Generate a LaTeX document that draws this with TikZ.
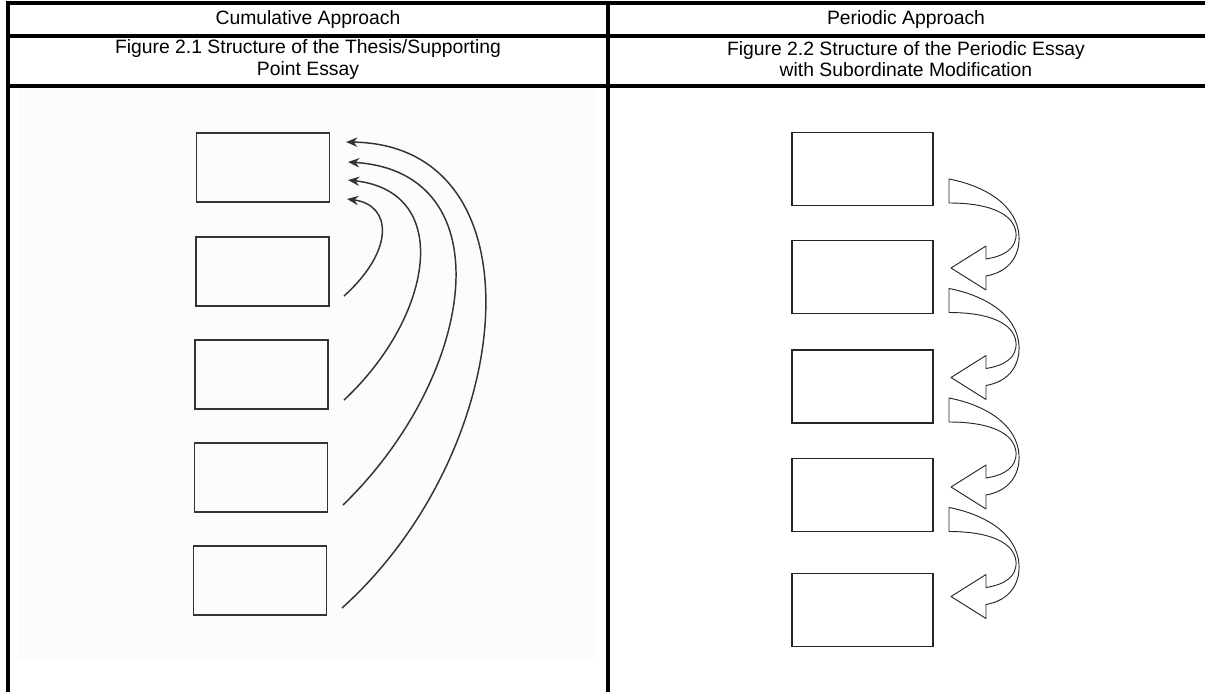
\documentclass[tikz,border=0pt]{standalone}
\usepackage{fontspec}
\setmainfont{Liberation Sans}
\usetikzlibrary{arrows.meta}
\begin{document}
\begin{tikzpicture}[x=0.75pt,y=-0.75pt,
  tbl/.style={line width=2.3pt, black},
  lbox/.style={draw=black!80, line width=0.9pt, minimum width=99.75pt, minimum height=51.75pt, inner sep=0pt},
  rbox/.style={draw=black!85, line width=0.9pt, minimum width=105.75pt, minimum height=54.75pt, inner sep=0pt},
  hdr/.style={font=\fontsize{14.5}{15.8}\selectfont, inner sep=0pt, align=center},
  arr/.style={draw=black!80, line width=1.1pt, -{Stealth[length=8.5pt,width=7pt]}},
  blk/.style={draw=black!85, line width=0.7pt, fill=white, line join=round}]
\useasboundingbox (0,0) rectangle (1205,692);
% faint scanned panel on the left
\fill[black!1] (18,88) rectangle (596,660);
% table lines
\draw[tbl] (8,3) -- (1205,3);
\draw[tbl] (8,36) -- (1205,36);
\draw[tbl] (8,86) -- (1205,86);
\draw[tbl] (8,1.5) -- (8,692);
\draw[tbl] (608,3) -- (608,692);
% header texts
\node[hdr] (h1) at (308,20) {Cumulative Approach};
\node[hdr] (h2) at (906,20) {Periodic Approach};
\node[hdr] (c1) at (308,59.5) {Figure 2.1 Structure of the Thesis/Supporting\\Point Essay};
\node[hdr] (c2) at (906,59.5) {Figure 2.2 Structure of the Periodic Essay\\with Subordinate Modification};
% left boxes
\node[lbox] (L1) at (263,167.5) {};
\node[lbox] (L2) at (262.5,271.5) {};
\node[lbox] (L3) at (261.5,374.5) {};
\node[lbox] (L4) at (261,477.5) {};
\node[lbox] (L5) at (260,580.5) {};
% left arrow ends
\coordinate (s2) at (344,296);
\coordinate (s3) at (344,400);
\coordinate (s4) at (343,505);
\coordinate (s5) at (342,608);
\coordinate (t2) at (347,199);
\coordinate (t3) at (348,180);
\coordinate (t4) at (348,162);
\coordinate (t5) at (346,142);
\draw[arr] (s2) .. controls (395,250) and (392,205) .. (t2);
\draw[arr] (s3) .. controls (432,318) and (455,192) .. (t3);
\draw[arr] (s4) .. controls (477,375) and (505,172) .. (t4);
\draw[arr] (s5) .. controls (518,450) and (545,145) .. (t5);
% right boxes
\node[rbox] (R1) at (862.5,169) {};
\node[rbox] (R2) at (862.5,277) {};
\node[rbox] (R3) at (862.5,386.5) {};
\node[rbox] (R4) at (862.5,495) {};
\node[rbox] (R5) at (862.5,610) {};
% curved block arrows
\foreach \d in {0,109.5,219,328.5}{
  \draw[blk, shift={(0,\d)}] (949,179) -- (949,203)
    .. controls (990,203) and (1014,214) .. (1016,233)
    .. controls (1017,248) and (1005,256) .. (986,259)
    -- (986,246) -- (951,268) -- (986,290) -- (986,276)
    .. controls (1009,272) and (1020,256) .. (1019,236)
    .. controls (1017,205) and (985,186) .. (949,179) -- cycle;
}
\end{tikzpicture}
\end{document}
